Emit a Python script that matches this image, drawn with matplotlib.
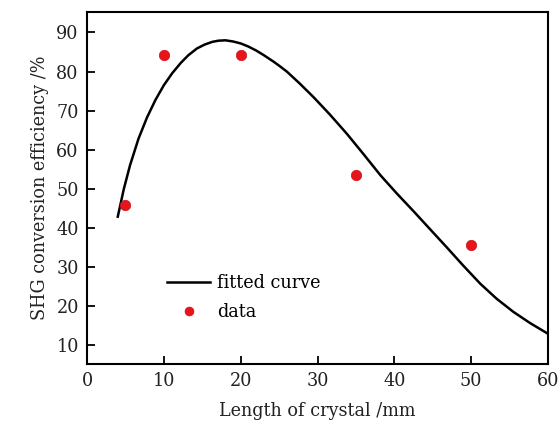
import matplotlib
matplotlib.use('Agg')
import matplotlib.pyplot as plt

# fitted curve
fit_len = [4.0, 4.8, 5.6, 6.7, 7.8, 8.9, 10.0, 11.1, 12.2, 13.2, 14.3, 15.3,
           16.3, 17.1, 18.0, 19.0, 20.0, 21.0, 22.0, 23.0, 24.3, 25.0, 26.0,
           27.7, 29.5, 31.6, 33.8, 36.0, 38.2, 40.3, 42.5, 44.6, 46.8, 49.0,
           51.2, 53.3, 55.5, 57.7, 60.0]
fit_eff = [42.8, 50.0, 56.0, 62.8, 68.2, 72.7, 76.5, 79.6, 82.2, 84.2, 85.9, 86.9,
           87.6, 87.9, 88.0, 87.7, 87.2, 86.4, 85.4, 84.2, 82.5, 81.5, 80.0,
           76.9, 73.4, 69.0, 64.1, 58.8, 53.4, 48.8, 44.2, 39.7, 35.0, 30.2,
           25.6, 21.8, 18.4, 15.5, 12.8]

# measured data
data_len = [5, 10, 20, 35, 50]
data_eff = [45.8, 84.2, 84.3, 53.4, 35.6]

xticks = [0, 10, 20, 30, 40, 50, 60]
yticks = [10, 20, 30, 40, 50, 60, 70, 80, 90]

plt.rcParams['font.family'] = ['DejaVu Serif']

fig = plt.figure(figsize=(5.58, 4.21), dpi=100)
ax = fig.add_axes([0.156, 0.135, 0.826, 0.836])

ax.plot(fit_len, fit_eff, color='black', lw=1.8, label='fitted curve', zorder=2,
        solid_joinstyle='round')
ax.plot(data_len, data_eff, 'o', color='#e8141b', ms=7.5, mec='#d01018', mew=0.5,
        label='data', zorder=3)

ax.set_xlim(0, 60)
ax.set_ylim(5, 95.2)
ax.set_xticks(xticks)
ax.set_yticks(yticks)
ax.tick_params(direction='in', length=6, width=1.3, labelsize=12.7, pad=6,
               top=False, right=False, colors='#222222')
ax.tick_params(axis='both', color='black')
for s in ax.spines.values():
    s.set_linewidth(1.5)

ax.set_xlabel('Length of crystal /mm', fontsize=12.7, labelpad=8, color='#222222')
ax.set_ylabel('SHG conversion efficiency /%', fontsize=12.7, labelpad=5,
              color='#222222')

ax.legend(loc='upper left', bbox_to_anchor=(0.158, 0.275), borderaxespad=0,
          frameon=False, fontsize=12.7, handlelength=2.45, handletextpad=0.4,
          labelspacing=0.6, markerscale=0.85)

fig.savefig('out.png', dpi=100)
